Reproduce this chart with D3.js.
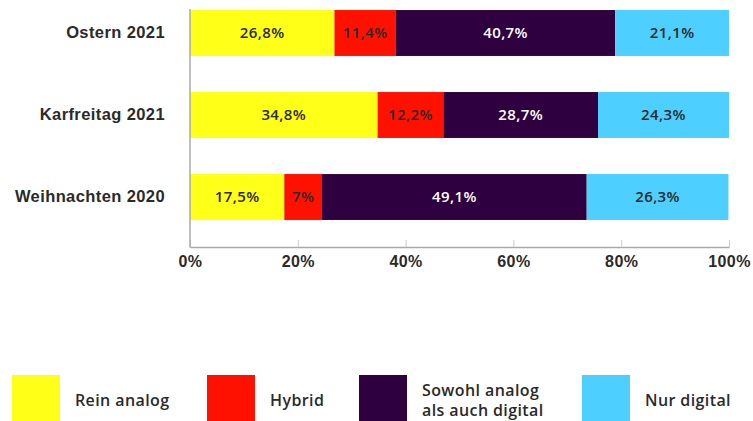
<!DOCTYPE html>
<html>
<head>
<meta charset="utf-8">
<script src="https://cdn.jsdelivr.net/npm/d3@7"></script>
<style>
  html, body { margin: 0; padding: 0; background: #fff; }
  svg { display: block; font-family: "Open Sans", "Noto Sans", sans-serif; letter-spacing: 0.4px; }
</style>
</head>
<body>
<svg id="chart" width="753" height="421"></svg>
<script>
// Anteil der Gottesdienstformen je Feiertag (Prozent)
const categories = ["Ostern 2021", "Karfreitag 2021", "Weihnachten 2020"];
const seriesNames = ["Rein analog", "Hybrid", "Sowohl analog als auch digital", "Nur digital"];
const reinAnalog = [26.8, 34.8, 17.5];
const hybrid = [11.4, 12.2, 7.0];
const sowohlAls = [40.7, 28.7, 49.1];
const nurDigital = [21.1, 24.3, 26.3];
const tickValues = [0, 20, 40, 60, 80, 100];

const colors = ["#ffff17", "#ff1100", "#2e0040", "#4dcfff"];
const textColors = ["#2a2a2a", "#2a2a2a", "#fff", "#2a2a2a"];

const rows = categories.map((c, i) => ({
  cat: c,
  "Rein analog": reinAnalog[i],
  "Hybrid": hybrid[i],
  "Sowohl analog als auch digital": sowohlAls[i],
  "Nur digital": nurDigital[i]
}));

const svg = d3.select("#chart");
const x = d3.scaleLinear().domain([0, 100]).range([190, 729]);
const y = d3.scaleBand().domain(categories).range([-8, 238])
  .paddingInner(0.44).paddingOuter(0.22);

const stack = d3.stack().keys(seriesNames)(rows);
const fmt = v => (Number.isInteger(v) ? String(v) : d3.format(".1f")(v).replace(".", ",")) + "%";

// Balkensegmente
const layers = svg.append("g").selectAll("g").data(stack).join("g")
  .attr("fill", (d, i) => colors[i]);
layers.selectAll("rect").data(d => d).join("rect")
  .attr("x", d => x(d[0]))
  .attr("y", d => y(d.data.cat))
  .attr("width", d => x(d[1]) - x(d[0]))
  .attr("height", y.bandwidth());

// Wertebeschriftungen
stack.forEach((layer, i) => {
  svg.append("g").selectAll("text").data(layer).join("text")
    .attr("x", d => (x(d[0]) + x(d[1])) / 2)
    .attr("y", d => y(d.data.cat) + y.bandwidth() / 2)
    .attr("dy", "0.35em")
    .attr("text-anchor", "middle")
    .attr("font-size", 15)
    .attr("font-weight", 600)
    .attr("fill", textColors[i])
    .text(d => fmt(d[1] - d[0]));
});

// x-Achse
const xAxis = svg.append("g").attr("transform", "translate(0,247)")
  .call(d3.axisBottom(x).tickValues(tickValues).tickSizeInner(-7).tickSizeOuter(0)
    .tickFormat(d => d + "%"));
xAxis.select(".domain").attr("stroke", "#aaa").attr("stroke-width", 1.5);
xAxis.selectAll(".tick line").attr("stroke", "#ccc");
xAxis.selectAll(".tick text").attr("font-size", 16).attr("font-weight", 600)
  .attr("fill", "#2a2a2a").attr("dy", "0.9em").attr("y", 6);

// y-Achse
const yAxis = svg.append("g").attr("transform", "translate(190,0)")
  .call(d3.axisLeft(y).tickSize(0).tickPadding(25));
yAxis.select(".domain").remove();
svg.append("line").attr("x1", 190).attr("x2", 190).attr("y1", 9).attr("y2", 247.75)
  .attr("stroke", "#aaa").attr("stroke-width", 1.5);
yAxis.selectAll(".tick text").attr("font-size", 16.5).attr("font-weight", 600).attr("fill", "#2a2a2a");

// Legende
const legendX = [12, 207, 359, 582];
const legend = svg.append("g").selectAll("g").data(seriesNames).join("g")
  .attr("transform", (d, i) => `translate(${legendX[i]},375)`);
legend.append("rect").attr("width", 48).attr("height", 48)
  .attr("fill", (d, i) => colors[i]);
legend.each(function (d) {
  const g = d3.select(this);
  const lines = d === "Sowohl analog als auch digital" ? ["Sowohl analog", "als auch digital"] : [d];
  const t = g.append("text").attr("x", 63).attr("font-size", 16).attr("font-weight", 600).attr("fill", "#2a2a2a");
  lines.forEach((ln, j) => {
    t.append("tspan").attr("x", 63)
      .attr("y", lines.length === 1 ? 25 : 15 + j * 20)
      .attr("dy", "0.35em").text(ln);
  });
});
</script>
</body>
</html>
